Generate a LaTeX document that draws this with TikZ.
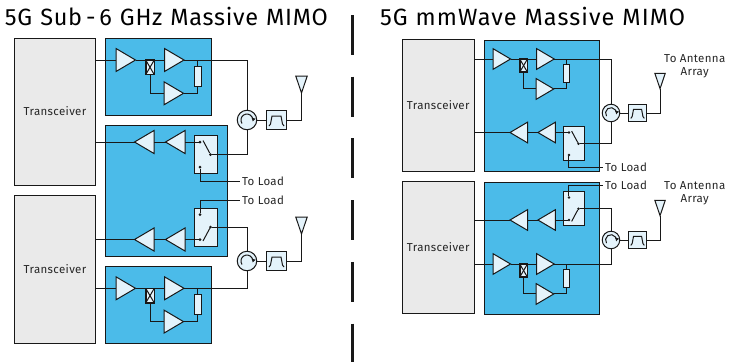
\documentclass[tikz,border=0pt]{standalone}
\usepackage{xcolor}
\usepackage{fontspec}
\setmainfont{Fira Sans}
\usetikzlibrary{shapes.geometric, arrows, positioning, arrows.meta}
\definecolor{panelblue}{HTML}{4BBBE9}
\definecolor{partfill}{HTML}{E4F3FB}
\definecolor{trxgray}{HTML}{EAEAEA}
\definecolor{wire}{HTML}{181818}

\begin{document}
\begin{tikzpicture}[
    x=1pt, y=-1pt, line width=1pt, color=wire,
    every node/.style={outer sep=0pt},
    title/.style={anchor=west, inner sep=0pt, text=black, font=\fontsize{23.5}{23.5}\addfontfeature{LetterSpace=#1}\selectfont},
    lbl/.style={inner sep=0pt, align=center, text=black!85, font=\fontsize{11.5}{12.5}\addfontfeature{LetterSpace=3}\selectfont},
    trx/.style={draw, fill=trxgray, anchor=north west, inner sep=0pt, minimum width=#1},
    panel/.style={draw, fill=panelblue, anchor=north west, inner sep=0pt, minimum width=#1},
    amp/.style={draw, fill=partfill, isosceles triangle, isosceles triangle stretches, inner sep=0pt, minimum height=19.5pt, minimum width=23pt, anchor=west},
    ampl/.style={amp, shape border rotate=180},
    coupler/.style={draw, fill=partfill, line width=1.5pt, inner sep=0pt, minimum width=8.5pt, minimum height=14.5pt},
    resistor/.style={draw, fill=partfill, inner sep=0pt, minimum width=7pt, minimum height=20.5pt},
    switchbox/.style={draw, fill=partfill, inner sep=0pt, minimum width=23pt, minimum height=38pt},
    contact/.style={circle, fill=wire, inner sep=0pt, minimum size=3pt},
    circulator/.style={draw, circle, fill=partfill, inner sep=0pt, minimum size=19.5pt},
    filterbox/.style={draw, fill=partfill, inner sep=0pt, minimum size=19.5pt},
    antenna/.style={draw, fill=partfill, isosceles triangle, isosceles triangle stretches, shape border rotate=-90, inner sep=0pt, minimum height=17pt, minimum width=11.5pt, anchor=apex}
]
\useasboundingbox (0,0) rectangle (730,362);

% titles and divider
\node[title=3] (subsix) at (5,16) {\spaceskip=8pt 5G Sub\,-\,6 GHz Massive MIMO};
\node[title=4.5] (mmw) at (380,16) {\spaceskip=8pt 5G mmWave Massive MIMO};
\coordinate (divtop) at (352.5,15);
\coordinate (divbot) at (352.5,362);
\draw[line width=2.5pt, dash pattern=on 40pt off 21.7pt] (divtop) -- (divbot);

% transceivers
\node[trx=81pt, minimum height=147pt] (tr1) at (14.5,38) {};
\node[trx=81pt, minimum height=147.5pt] (tr2) at (14.5,195.5) {};
\node[trx=72.5pt, minimum height=132pt] (tr3) at (402,39.5) {};
\node[trx=72.5pt, minimum height=132.5pt] (tr4) at (402,181) {};
\node[lbl] (trl1) at (tr1) {Transceiver};
\node[lbl] (trl2) at (tr2) {Transceiver};
\node[lbl] (trl3) at (tr3) {Transceiver};
\node[lbl] (trl4) at (tr4) {Transceiver};

% blue boards
\node[panel=105.5pt, minimum height=77pt] (pa) at (105.5,38) {};
\node[panel=122pt, minimum height=131.5pt] (pb) at (105.5,125) {};
\node[panel=105.5pt, minimum height=77pt] (pc) at (105.5,266.5) {};
\node[panel=115.5pt, minimum height=131.5pt] (pd) at (484,40) {};
\node[panel=115.5pt, minimum height=132pt] (pe) at (484,182) {};

% transmit chains
\foreach \u/\x/\y/\s in {a/116/60/1, b/116/288.3/1, c/493/59/.9, d/493/264/.9} {
  \begin{scope}[shift={(\x,\y)}, scale=\s, transform shape]
    \node[amp] (tx\u1) at (0,0) {};
    \node[amp, right=29pt of tx\u1] (tx\u2) {};
    \node[amp] (tx\u3) at (48,33.3) {};
    \node[coupler] (cp\u) at (34,7.3) {};
    \node[resistor] (res\u) at (81.5,16.3) {};
    \draw (tx\u1.east) -- (tx\u2.west);
    \draw (cp\u.north west) -- (cp\u.south east);
    \draw (cp\u.north east) -- (cp\u.south west);
    \draw (cp\u.south) |- (tx\u3.west);
    \draw (res\u.north) -- (res\u.north |- tx\u2.east);
    \draw (res\u.south) |- (tx\u3.east);
  \end{scope}
}

% receive chains
\foreach \u/\x/\y/\s/\f in {a/134.5/142/1/1, b/134.5/239.5/1/-1, c/510/132.5/.9/1, d/510/220/.9/-1} {
  \begin{scope}[shift={(\x,\y)}, xscale=\s, yscale=\s*\f, transform shape]
    \node[ampl] (rx\u1) at (0,0) {};
    \node[ampl, right=11.5pt of rx\u1] (rx\u2) {};
    \node[switchbox] (sw\u) at (71,12.5) {};
    \node[contact] (swi\u) at (65.5,0) {};
    \node[contact] (swo\u) at (76,12.5) {};
    \node[contact] (swl\u) at (65.5,25) {};
    \coordinate (arm\u) at (68.5,-1.5);
    \draw (rx\u1.east) -- (rx\u2.west);
    \draw (rx\u2.east) -- (swi\u);
    \draw (arm\u) -- (swo\u);
  \end{scope}
}

% circulator, filter, antenna
\foreach \u/\x/\y/\s in {a/247/120/1, b/247/261/1, c/611/113/.9, d/611/240/.9} {
  \begin{scope}[shift={(\x,\y)}, scale=\s, transform shape]
    \node[circulator] (cr\u) at (0,0) {};
    \node[filterbox, right=10pt of cr\u] (fl\u) {};
    \node[antenna] (an\u) at (54.5,-27) {};
    \draw[-{Latex[length=3.5pt,width=4.5pt]}] (cr\u.center) ++(-5,3.5) arc[start angle=215, end angle=-15, radius=6pt];
    \draw (fl\u.center) ++(-7.5,6) -- ++(1.5,-2) -- ++(1.5,-8) -- ++(9,0) -- ++(1.5,8) -- ++(1.5,2);
    \draw (cr\u) -- (fl\u);
    \draw (fl\u) -| (an\u.apex);
  \end{scope}
}

% wires between parts
\foreach \u/\t in {a/1, b/2, c/3, d/4} {
  \draw (tr\t.east |- tx\u1.west) -- (tx\u1.west);
  \draw (tr\t.east |- rx\u1.west) -- (rx\u1.west);
  \draw (tx\u2.east) -| (cr\u);
  \draw (swo\u) -| (cr\u);
}

% to-load ends
\node[lbl, anchor=west, inner sep=2pt] (loada) at (240,181) {To Load};
\node[lbl, anchor=west, inner sep=2pt] (loadb) at (240,200.7) {To Load};
\node[lbl, anchor=west, inner sep=2pt] (loadc) at (603,167.5) {To Load};
\node[lbl, anchor=west, inner sep=2pt] (loadd) at (603,185) {To Load};
\draw (swla) |- (loada);
\draw (swlb) |- (loadb);
\draw (swlc) |- (loadc);
\draw (swld) |- (loadd);

\node[lbl] (arrc) at (694.7,66.5) {To Antenna\\Array};
\node[lbl] (arrd) at (694.7,193.5) {To Antenna\\Array};
\end{tikzpicture}
\end{document}
